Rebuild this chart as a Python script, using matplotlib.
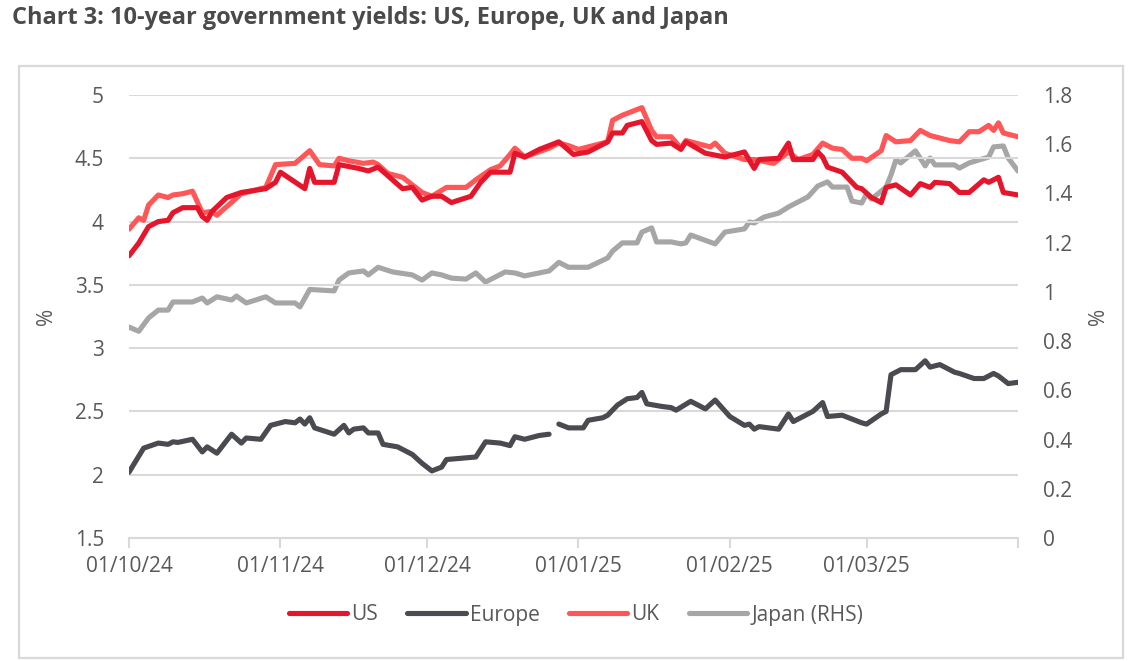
import matplotlib
matplotlib.use("Agg")
import matplotlib.pyplot as plt
import matplotlib.dates as mdates
from matplotlib.patches import Rectangle
from matplotlib.ticker import FuncFormatter, FixedLocator
import numpy as np
import pandas as pd

plt.rcParams['font.family'] = ['Open Sans', 'DejaVu Sans']

title = "Chart 3: 10-year government yields: US, Europe, UK and Japan"

us_dates = ["2024-10-01", "2024-10-03", "2024-10-05", "2024-10-07", "2024-10-09", "2024-10-10",
            "2024-10-12", "2024-10-15", "2024-10-16", "2024-10-17", "2024-10-18", "2024-10-21",
            "2024-10-24", "2024-10-29", "2024-10-31", "2024-11-01", "2024-11-06", "2024-11-07",
            "2024-11-08", "2024-11-12", "2024-11-13", "2024-11-17", "2024-11-19", "2024-11-21",
            "2024-11-26", "2024-11-28", "2024-11-30", "2024-12-02", "2024-12-04", "2024-12-06",
            "2024-12-10", "2024-12-12", "2024-12-14", "2024-12-18", "2024-12-19", "2024-12-21",
            "2024-12-24", "2024-12-28", "2024-12-31", "2025-01-03", "2025-01-07", "2025-01-08",
            "2025-01-10", "2025-01-11", "2025-01-14", "2025-01-16", "2025-01-17", "2025-01-20",
            "2025-01-22", "2025-01-23", "2025-01-27", "2025-01-31", "2025-02-04", "2025-02-06",
            "2025-02-07", "2025-02-11", "2025-02-13", "2025-02-14", "2025-02-18", "2025-02-19",
            "2025-02-20", "2025-02-21", "2025-02-24", "2025-02-27", "2025-02-28", "2025-03-02",
            "2025-03-04", "2025-03-05", "2025-03-07", "2025-03-10", "2025-03-12", "2025-03-14",
            "2025-03-15", "2025-03-18", "2025-03-20", "2025-03-22", "2025-03-25", "2025-03-26",
            "2025-03-28", "2025-03-29", "2025-04-01"]
us_values = [3.73, 3.83, 3.96, 4.00, 4.01, 4.07,
             4.11, 4.11, 4.04, 4.01, 4.08, 4.19,
             4.23, 4.26, 4.31, 4.39, 4.26, 4.42,
             4.31, 4.31, 4.45, 4.42, 4.40, 4.43,
             4.26, 4.27, 4.17, 4.20, 4.20, 4.15,
             4.20, 4.31, 4.39, 4.39, 4.54, 4.51,
             4.57, 4.63, 4.53, 4.55, 4.63, 4.70,
             4.70, 4.76, 4.79, 4.64, 4.61, 4.62,
             4.57, 4.63, 4.54, 4.51, 4.55, 4.42,
             4.49, 4.50, 4.62, 4.49, 4.49, 4.55,
             4.51, 4.43, 4.39, 4.27, 4.26, 4.19,
             4.15, 4.27, 4.29, 4.21, 4.30, 4.27,
             4.31, 4.30, 4.23, 4.23, 4.33, 4.31,
             4.35, 4.23, 4.21]

uk_dates = ["2024-10-01", "2024-10-03", "2024-10-04", "2024-10-05", "2024-10-07", "2024-10-09",
            "2024-10-10", "2024-10-12", "2024-10-14", "2024-10-16", "2024-10-18", "2024-10-19",
            "2024-10-24", "2024-10-29", "2024-10-31", "2024-11-04", "2024-11-07", "2024-11-09",
            "2024-11-12", "2024-11-13", "2024-11-15", "2024-11-18", "2024-11-20", "2024-11-21",
            "2024-11-23", "2024-11-26", "2024-11-30", "2024-12-02", "2024-12-05", "2024-12-09",
            "2024-12-11", "2024-12-14", "2024-12-16", "2024-12-18", "2024-12-19", "2024-12-21",
            "2024-12-26", "2024-12-28", "2024-12-30", "2025-01-01", "2025-01-03", "2025-01-07",
            "2025-01-08", "2025-01-10", "2025-01-14", "2025-01-16", "2025-01-17", "2025-01-20",
            "2025-01-22", "2025-01-23", "2025-01-28", "2025-01-29", "2025-01-31", "2025-02-04",
            "2025-02-06", "2025-02-10", "2025-02-13", "2025-02-15", "2025-02-18", "2025-02-20",
            "2025-02-22", "2025-02-24", "2025-02-26", "2025-02-28", "2025-03-01", "2025-03-04",
            "2025-03-05", "2025-03-07", "2025-03-10", "2025-03-12", "2025-03-14", "2025-03-18",
            "2025-03-20", "2025-03-22", "2025-03-24", "2025-03-26", "2025-03-27", "2025-03-28",
            "2025-03-29", "2025-04-01"]
uk_values = [3.94, 4.03, 4.01, 4.13, 4.21, 4.19,
             4.21, 4.22, 4.24, 4.07, 4.08, 4.05,
             4.22, 4.27, 4.45, 4.46, 4.56, 4.45,
             4.44, 4.50, 4.48, 4.46, 4.47, 4.45,
             4.38, 4.35, 4.23, 4.20, 4.27, 4.27,
             4.33, 4.41, 4.44, 4.53, 4.58, 4.51,
             4.58, 4.62, 4.60, 4.57, 4.59, 4.63,
             4.80, 4.84, 4.90, 4.72, 4.67, 4.67,
             4.58, 4.64, 4.59, 4.62, 4.54, 4.49,
             4.49, 4.46, 4.55, 4.49, 4.53, 4.62,
             4.58, 4.57, 4.50, 4.50, 4.48, 4.56,
             4.68, 4.63, 4.64, 4.72, 4.68, 4.64,
             4.63, 4.71, 4.71, 4.76, 4.72, 4.78,
             4.70, 4.67]

eu_dates = ["2024-10-01", "2024-10-04", "2024-10-07", "2024-10-09", "2024-10-10", "2024-10-11",
            "2024-10-14", "2024-10-16", "2024-10-17", "2024-10-19", "2024-10-22", "2024-10-24",
            "2024-10-25", "2024-10-28", "2024-10-30", "2024-11-02", "2024-11-04", "2024-11-05",
            "2024-11-06", "2024-11-07", "2024-11-08", "2024-11-12", "2024-11-14", "2024-11-15",
            "2024-11-16", "2024-11-18", "2024-11-19", "2024-11-21", "2024-11-22", "2024-11-25",
            "2024-11-28", "2024-11-30", "2024-12-02", "2024-12-04", "2024-12-05", "2024-12-08",
            "2024-12-11", "2024-12-13", "2024-12-16", "2024-12-18", "2024-12-19", "2024-12-21",
            "2024-12-24", "2024-12-26", "2024-12-27", "2024-12-28", "2024-12-30", "2025-01-02",
            "2025-01-03", "2025-01-06", "2025-01-07", "2025-01-09", "2025-01-11", "2025-01-13",
            "2025-01-14", "2025-01-15", "2025-01-18", "2025-01-20", "2025-01-21", "2025-01-24",
            "2025-01-27", "2025-01-29", "2025-02-01", "2025-02-04", "2025-02-05", "2025-02-06",
            "2025-02-07", "2025-02-11", "2025-02-13", "2025-02-14", "2025-02-16", "2025-02-18",
            "2025-02-20", "2025-02-21", "2025-02-24", "2025-02-28", "2025-03-01", "2025-03-04",
            "2025-03-05", "2025-03-06", "2025-03-08", "2025-03-11", "2025-03-13", "2025-03-14",
            "2025-03-16", "2025-03-19", "2025-03-20", "2025-03-23", "2025-03-25", "2025-03-27",
            "2025-03-28", "2025-03-30", "2025-04-01"]
eu_values = [2.02, 2.21, 2.25, 2.24, 2.26, 2.255,
             2.28, 2.18, 2.22, 2.17, 2.32, 2.25,
             2.29, 2.28, 2.39, 2.42, 2.41, 2.44,
             2.40, 2.45, 2.37, 2.32, 2.39, 2.33,
             2.36, 2.37, 2.33, 2.33, 2.24, 2.22,
             2.16, 2.09, 2.03, 2.06, 2.12, 2.13,
             2.14, 2.26, 2.25, 2.23, 2.30, 2.28,
             2.31, 2.32, np.nan, 2.40, 2.37, 2.37,
             2.43, 2.45, 2.47, 2.55, 2.60, 2.61,
             2.65, 2.56, 2.54, 2.53, 2.51, 2.58,
             2.52, 2.59, 2.46, 2.39, 2.40, 2.36,
             2.38, 2.36, 2.48, 2.42, 2.46, 2.50,
             2.57, 2.46, 2.47, 2.41, 2.40, 2.48,
             2.50, 2.79, 2.83, 2.83, 2.90, 2.85,
             2.87, 2.81, 2.80, 2.76, 2.76, 2.80,
             2.78, 2.72, 2.73]

jp_dates = ["2024-10-01", "2024-10-03", "2024-10-05", "2024-10-07", "2024-10-09", "2024-10-10",
            "2024-10-14", "2024-10-16", "2024-10-17", "2024-10-19", "2024-10-22", "2024-10-23",
            "2024-10-25", "2024-10-29", "2024-10-31", "2024-11-04", "2024-11-05", "2024-11-07",
            "2024-11-12", "2024-11-13", "2024-11-15", "2024-11-18", "2024-11-19", "2024-11-21",
            "2024-11-24", "2024-11-28", "2024-11-30", "2024-12-02", "2024-12-04", "2024-12-06",
            "2024-12-09", "2024-12-11", "2024-12-13", "2024-12-17", "2024-12-19", "2024-12-21",
            "2024-12-24", "2024-12-26", "2024-12-28", "2024-12-30", "2025-01-03", "2025-01-07",
            "2025-01-08", "2025-01-10", "2025-01-13", "2025-01-14", "2025-01-16", "2025-01-17",
            "2025-01-20", "2025-01-22", "2025-01-23", "2025-01-24", "2025-01-29", "2025-01-31",
            "2025-02-04", "2025-02-05", "2025-02-06", "2025-02-08", "2025-02-11", "2025-02-13",
            "2025-02-17", "2025-02-19", "2025-02-21", "2025-02-22", "2025-02-25", "2025-02-26",
            "2025-02-28", "2025-03-01", "2025-03-02", "2025-03-05", "2025-03-06", "2025-03-07",
            "2025-03-08", "2025-03-11", "2025-03-13", "2025-03-14", "2025-03-15", "2025-03-19",
            "2025-03-20", "2025-03-22", "2025-03-26", "2025-03-27", "2025-03-29", "2025-03-30",
            "2025-04-01"]
jp_values = [0.857, 0.84, 0.894, 0.926, 0.926, 0.959,
             0.959, 0.975, 0.955, 0.98, 0.967, 0.983,
             0.955, 0.98, 0.955, 0.955, 0.939, 1.01,
             1.004, 1.048, 1.077, 1.085, 1.069, 1.10,
             1.081, 1.069, 1.048, 1.077, 1.069, 1.056,
             1.052, 1.077, 1.04, 1.081, 1.077, 1.065,
             1.077, 1.085, 1.12, 1.10, 1.10, 1.138,
             1.166, 1.199, 1.199, 1.243, 1.26, 1.203,
             1.203, 1.195, 1.199, 1.231, 1.195, 1.243,
             1.256, 1.284, 1.28, 1.304, 1.32, 1.345,
             1.386, 1.43, 1.447, 1.426, 1.426, 1.369,
             1.361, 1.398, 1.377, 1.426, 1.475, 1.536,
             1.524, 1.573, 1.512, 1.544, 1.516, 1.516,
             1.503, 1.524, 1.548, 1.589, 1.593, 1.544,
             1.491]

month_ticks = ["2024-10-01", "2024-11-01", "2024-12-01", "2025-01-01", "2025-02-01", "2025-03-01", "2025-04-01"]
month_labels = ["01/10/24", "01/11/24", "01/12/24", "01/01/25", "01/02/25", "01/03/25", ""]
left_ticks = [1.5, 2, 2.5, 3, 3.5, 4, 4.5, 5]
right_ticks = [0, 0.2, 0.4, 0.6, 0.8, 1.0, 1.2, 1.4, 1.6, 1.8]

C_US = "#E5162B"
C_EU = "#4A4B50"
C_UK = "#FF5757"
C_JP = "#A6A6A6"
C_TXT = "#595959"
C_GRID = "#D9D9D9"
FS = 15

W, H = 1138, 661
fig = plt.figure(figsize=(W / 100, H / 100), dpi=100)
fig.patch.set_facecolor("white")

# outer frame
fig.patches.append(Rectangle((19 / W, (H - 658) / H), (1123 - 19) / W, (658 - 66) / H,
                             transform=fig.transFigure, fill=False, edgecolor="#D9D9D9",
                             linewidth=1.6, zorder=0))

fig.text(12 / W, 1 - 18 / H, title, ha="left", va="center", fontsize=16.9,
         fontweight="bold", color="#4A4A4A")

ax = fig.add_axes([129 / W, (H - 538) / H, (1018 - 129) / W, (538 - 95) / H])
ax2 = ax.twinx()

lw = 3.7
kw = dict(lw=lw, solid_joinstyle="round", solid_capstyle="round")
ax.plot(pd.to_datetime(eu_dates), eu_values, color=C_EU, label="Europe", zorder=3, **kw)
ax.plot(pd.to_datetime(us_dates), us_values, color=C_US, label="US", zorder=4, **kw)
ax.plot(pd.to_datetime(uk_dates), uk_values, color=C_UK, label="UK", zorder=3, **kw)
ax2.plot(pd.to_datetime(jp_dates), jp_values, color=C_JP, label="Japan (RHS)", zorder=2, **kw)

ax.set_zorder(ax2.get_zorder() + 1)
ax.patch.set_visible(False)

xmin, xmax = pd.Timestamp("2024-10-01"), pd.Timestamp("2025-04-01")
ax.set_xlim(xmin, xmax)
ax.set_ylim(1.5, 5)
ax2.set_ylim(0, 1.8)

ax.set_yticks(left_ticks)
ax.yaxis.set_major_formatter(FuncFormatter(lambda v, p: f"{v:g}"))
ax2.set_yticks(right_ticks)
ax2.yaxis.set_major_formatter(FuncFormatter(lambda v, p: f"{v:g}"))

ax.xaxis.set_major_locator(FixedLocator(mdates.date2num(pd.to_datetime(month_ticks))))
ax.set_xticklabels(month_labels)

ax.grid(axis="y", color=C_GRID, lw=1.5, zorder=0)
ax.set_axisbelow(True)
for a in (ax, ax2):
    for s in a.spines.values():
        s.set_visible(False)
ax.spines["bottom"].set_visible(True)
ax.spines["bottom"].set_color(C_GRID)
ax.spines["bottom"].set_linewidth(1.5)

ax.tick_params(axis="x", direction="out", length=7, width=1.5, color=C_GRID,
               labelsize=FS, labelcolor=C_TXT, pad=6)
ax.tick_params(axis="y", length=0, labelsize=FS, labelcolor=C_TXT, pad=18)
ax2.tick_params(axis="y", length=0, labelsize=FS, labelcolor=C_TXT, pad=18)

ax.set_ylabel("%", fontsize=FS, color=C_TXT, labelpad=13)
ax2.set_ylabel("%", fontsize=FS, color=C_TXT, labelpad=11)

h1, l1 = ax.get_legend_handles_labels()
h2, l2 = ax2.get_legend_handles_labels()
hd = dict(zip(l1 + l2, h1 + h2))
order = ["US", "Europe", "UK", "Japan (RHS)"]
leg = fig.legend([hd[k] for k in order], order, loc="center",
                 bbox_to_anchor=(576 / W, 1 - 615 / H), ncol=4, frameon=False,
                 fontsize=FS, handlelength=2.8, handletextpad=0.2, columnspacing=1.4,
                 labelcolor=C_TXT)

fig.savefig("out.png", dpi=100, facecolor="white")
